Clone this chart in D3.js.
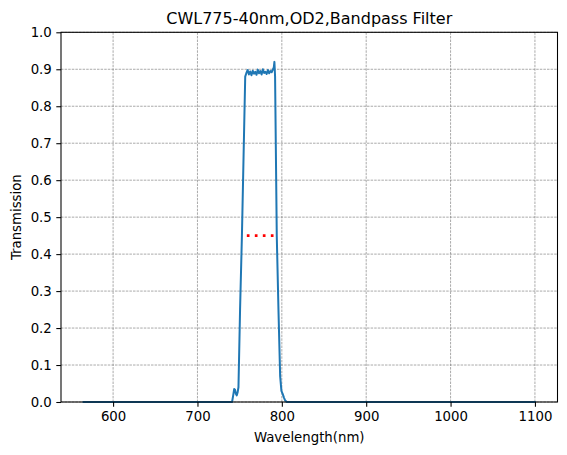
<!DOCTYPE html>
<html>
<head>
<meta charset="utf-8">
<script src="https://cdn.jsdelivr.net/npm/d3@7"></script>
<style>
  body { margin: 0; background: #fff; }
  text { font-family: "DejaVu Sans", sans-serif; }
</style>
</head>
<body>
<script>
// transmission curve
const wavelength = [565, 741, 742.5, 743.5, 744.5, 745.5, 746.5, 747.5, 748.6, 750.5, 752.7, 754.6, 756.6,
  758, 759.5, 761, 762.5, 764, 765.5, 767, 768.5, 770, 771.5, 773, 774.5, 776, 777.5, 779,
  780.5, 782, 783.5, 785, 786.5, 788, 789.5, 790.5, 791.2, 792, 794, 796, 798, 799.5,
  801, 802.5, 804, 806, 1100];
const transmission = [0, 0, 0.02, 0.035, 0.033, 0.022, 0.018, 0.025, 0.04, 0.25, 0.45, 0.66, 0.88,
  0.89, 0.898, 0.886, 0.894, 0.884, 0.896, 0.888, 0.893, 0.885, 0.899, 0.889, 0.895, 0.886, 0.9, 0.89,
  0.893, 0.887, 0.898, 0.889, 0.895, 0.892, 0.9, 0.905, 0.92, 0.88, 0.45, 0.25, 0.07, 0.03,
  0.022, 0.012, 0.004, 0, 0];

// half-maximum marker
const fwhmRange = [758.5, 791];
const fwhmLevel = 0.45;

const xTicks = [600, 700, 800, 900, 1000, 1100];
const yTicks = [0, 0.1, 0.2, 0.3, 0.4, 0.5, 0.6, 0.7, 0.8, 0.9, 1.0];

const W = 567, H = 455;
const mLeft = 61, mRight = 557.5, mTop = 32.3, mBottom = 402;

const svg = d3.select("body").append("svg")
    .attr("width", W)
    .attr("height", H);

const x = d3.scaleLinear().domain([538.25, 1126.75]).range([mLeft, mRight]);
const y = d3.scaleLinear().domain([0, 1]).range([mBottom, mTop]);

// grid
svg.append("g").selectAll("line")
    .data(xTicks)
    .join("line")
    .attr("x1", d => x(d)).attr("x2", d => x(d))
    .attr("y1", mTop).attr("y2", mBottom)
    .attr("stroke", "#808080")
    .attr("stroke-width", 0.67)
    .attr("stroke-dasharray", "2.5,1.1");

svg.append("g").selectAll("line")
    .data(yTicks)
    .join("line")
    .attr("x1", mLeft).attr("x2", mRight)
    .attr("y1", d => y(d)).attr("y2", d => y(d))
    .attr("stroke", "#808080")
    .attr("stroke-width", 0.67)
    .attr("stroke-dasharray", "2.5,1.1");

// curve
const pts = wavelength.map((w, i) => [w, transmission[i]]);
svg.append("path")
    .datum(pts)
    .attr("fill", "none")
    .attr("stroke", "#1f77b4")
    .attr("stroke-width", 2)
    .attr("stroke-linejoin", "round")
    .attr("stroke-linecap", "square")
    .attr("d", d3.line().x(d => x(d[0])).y(d => y(d[1])));

svg.append("line")
    .attr("x1", x(fwhmRange[0])).attr("x2", x(fwhmRange[1]))
    .attr("y1", y(fwhmLevel)).attr("y2", y(fwhmLevel))
    .attr("stroke", "#ff0000")
    .attr("stroke-width", 2.67)
    .attr("stroke-dasharray", "2.7,5.3");

// axes
const xAxis = svg.append("g")
    .attr("transform", `translate(0,${mBottom})`)
    .call(d3.axisBottom(x).tickValues(xTicks).tickSize(4.7).tickPadding(4.5).tickFormat(d3.format("d")));
const yAxis = svg.append("g")
    .attr("transform", `translate(${mLeft},0)`)
    .call(d3.axisLeft(y).tickValues(yTicks).tickSize(4.7).tickPadding(4.5).tickFormat(d3.format(".1f")));

[xAxis, yAxis].forEach(g => {
  g.select(".domain").remove();
  g.selectAll("line").attr("stroke", "#000").attr("stroke-width", 1.07);
  g.selectAll("text").attr("font-size", 13.3).attr("fill", "#000")
    .style("font-family", "DejaVu Sans");
});

// frame
svg.append("rect")
    .attr("x", mLeft).attr("y", mTop)
    .attr("width", mRight - mLeft).attr("height", mBottom - mTop)
    .attr("fill", "none")
    .attr("stroke", "#000")
    .attr("stroke-width", 1.07);

// labels
svg.append("text")
    .attr("x", (mLeft + mRight) / 2).attr("y", 24)
    .attr("text-anchor", "middle")
    .attr("font-size", 16)
    .text("CWL775-40nm,OD2,Bandpass Filter");

svg.append("text")
    .attr("x", (mLeft + mRight) / 2).attr("y", 442)
    .attr("text-anchor", "middle")
    .attr("font-size", 13.3)
    .text("Wavelength(nm)");

svg.append("text")
    .attr("transform", `translate(21,${(mTop + mBottom) / 2}) rotate(-90)`)
    .attr("text-anchor", "middle")
    .attr("font-size", 13.3)
    .text("Transmission");
</script>
</body>
</html>
